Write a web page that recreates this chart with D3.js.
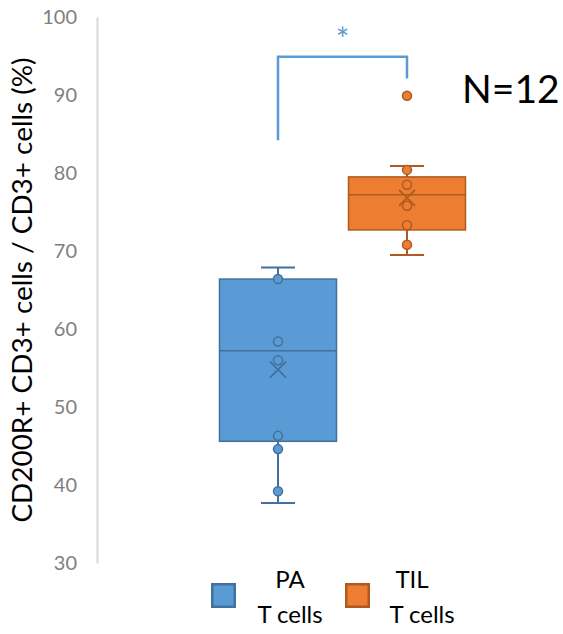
<!DOCTYPE html>
<html>
<head>
<meta charset="utf-8">
<script src="https://d3js.org/d3.v7.min.js"></script>
<style>
  body { margin: 0; background: #fff; }
  svg text { font-family: Lato, "Open Sans", sans-serif; }
</style>
</head>
<body>
<svg id="chart" width="563" height="634"></svg>
<script>
// groups and their colours
var groups = ["PA", "TIL"];
var colours = ["#5b9bd5", "#ed7d31"];
var strokes = ["#41719c", "#ae5a21"];
var legendLines = [["PA", "T cells"], ["TIL", "T cells"]];

// box stats
var whiskerLow = [37.7, 69.5];
var q1 = [45.6, 72.7];
var median = [57.2, 77.2];
var q3 = [66.4, 79.5];
var whiskerHigh = [67.9, 80.9];
var means = [54.8, 76.8];

// visible points
var paPoints = [66.4, 58.4, 56.0, 46.3, 44.6, 39.2];
var tilPoints = [80.4, 78.5, 75.8, 73.3, 70.8, 89.9];
var allPoints = [paPoints, tilPoints];

var yTicks = [30, 40, 50, 60, 70, 80, 90, 100];
var bracket = {left: 84.2, right: 92.1, top: 94.9, label: "*"};
var yTitle = "CD200R+ CD3+ cells / CD3+ cells (%)";
var nLabel = "N=12";

var svg = d3.select("#chart");

var y = d3.scaleLinear().domain([30, 100]).range([563, 17]);
var x = d3.scaleBand().domain(groups)
    .range([213.5, 471.5])
    .paddingInner(0.093)
    .paddingOuter(0.0465);
var bw = x.bandwidth();
var cx = function(g){ return x(g) + bw / 2; };

// y axis
var yAxis = svg.append("g")
    .attr("transform", "translate(97,0)")
    .call(d3.axisLeft(y).tickValues(yTicks).tickSize(0).tickPadding(20).tickFormat(d3.format("d")));
yAxis.select(".domain").attr("stroke", "#d9d9d9").attr("stroke-width", 2);
yAxis.selectAll("text")
    .attr("fill", "#7f7f7f")
    .style("font-size", "20px");

svg.append("text")
    .attr("transform", "translate(32,290) rotate(-90)")
    .attr("text-anchor", "middle")
    .attr("textLength", 465)
    .attr("lengthAdjust", "spacingAndGlyphs")
    .style("font-size", "26px")
    .attr("fill", "#000")
    .text(yTitle);

// boxes
groups.forEach(function(g, i) {
  var c = cx(g);
  var gg = svg.append("g");
  var capW = 34;
  // whiskers
  gg.append("line").attr("x1", c).attr("x2", c)
    .attr("y1", y(whiskerHigh[i])).attr("y2", y(q3[i]))
    .attr("stroke", strokes[i]).attr("stroke-width", 2);
  gg.append("line").attr("x1", c).attr("x2", c)
    .attr("y1", y(q1[i])).attr("y2", y(whiskerLow[i]))
    .attr("stroke", strokes[i]).attr("stroke-width", 2);
  [whiskerHigh[i], whiskerLow[i]].forEach(function(v){
    gg.append("line").attr("x1", c - capW/2).attr("x2", c + capW/2)
      .attr("y1", y(v)).attr("y2", y(v))
      .attr("stroke", strokes[i]).attr("stroke-width", 2);
  });
  // box
  gg.append("rect")
    .attr("x", x(g)).attr("width", bw)
    .attr("y", y(q3[i])).attr("height", y(q1[i]) - y(q3[i]))
    .attr("fill", colours[i])
    .attr("stroke", strokes[i]).attr("stroke-width", 1.5);
  gg.append("line").attr("x1", x(g)).attr("x2", x(g) + bw)
    .attr("y1", y(median[i])).attr("y2", y(median[i]))
    .attr("stroke", strokes[i]).attr("stroke-width", 1.5);
  // points
  gg.selectAll("circle").data(allPoints[i]).enter()
    .append("circle")
    .attr("cx", c)
    .attr("cy", function(d){ return y(d); })
    .attr("r", 4.5)
    .attr("fill", colours[i])
    .attr("stroke", strokes[i])
    .attr("stroke-width", 1.5);
  // mean marker
  var my = y(means[i]), s = 8;
  gg.append("path")
    .attr("d", "M" + (c - s) + "," + (my - s) + "L" + (c + s) + "," + (my + s) +
               "M" + (c - s) + "," + (my + s) + "L" + (c + s) + "," + (my - s))
    .attr("stroke", strokes[i]).attr("stroke-width", 1.8).attr("fill", "none");
});

// significance bracket
svg.append("path")
  .attr("d", "M" + cx("PA") + "," + y(bracket.left) +
             "V" + y(bracket.top) +
             "H" + cx("TIL") +
             "V" + y(bracket.right))
  .attr("fill", "none")
  .attr("stroke", "#5b9bd5")
  .attr("stroke-width", 2.5);
svg.append("text")
  .attr("x", (cx("PA") + cx("TIL")) / 2)
  .attr("y", 51)
  .attr("text-anchor", "middle")
  .attr("fill", "#5b9bd5")
  .style("font-size", "32px")
  .text(bracket.label);

svg.append("text")
  .attr("x", 462).attr("y", 103)
  .style("font-size", "39px")
  .attr("fill", "#000")
  .text(nLabel);

// legend
var legX = [211, 345];
var textX = [[290, 290], [412, 422]];
groups.forEach(function(g, i) {
  svg.append("rect")
    .attr("x", legX[i] + 1.25).attr("y", 584.25)
    .attr("width", 22.5).attr("height", 22.5)
    .attr("fill", colours[i])
    .attr("stroke", strokes[i]).attr("stroke-width", 2.5);
  legendLines[i].forEach(function(t, j) {
    svg.append("text")
      .attr("x", textX[i][j]).attr("y", 588 + j * 35)
      .attr("text-anchor", "middle")
      .style("font-size", "24px")
      .attr("fill", "#000")
      .text(t);
  });
});
</script>
</body>
</html>
